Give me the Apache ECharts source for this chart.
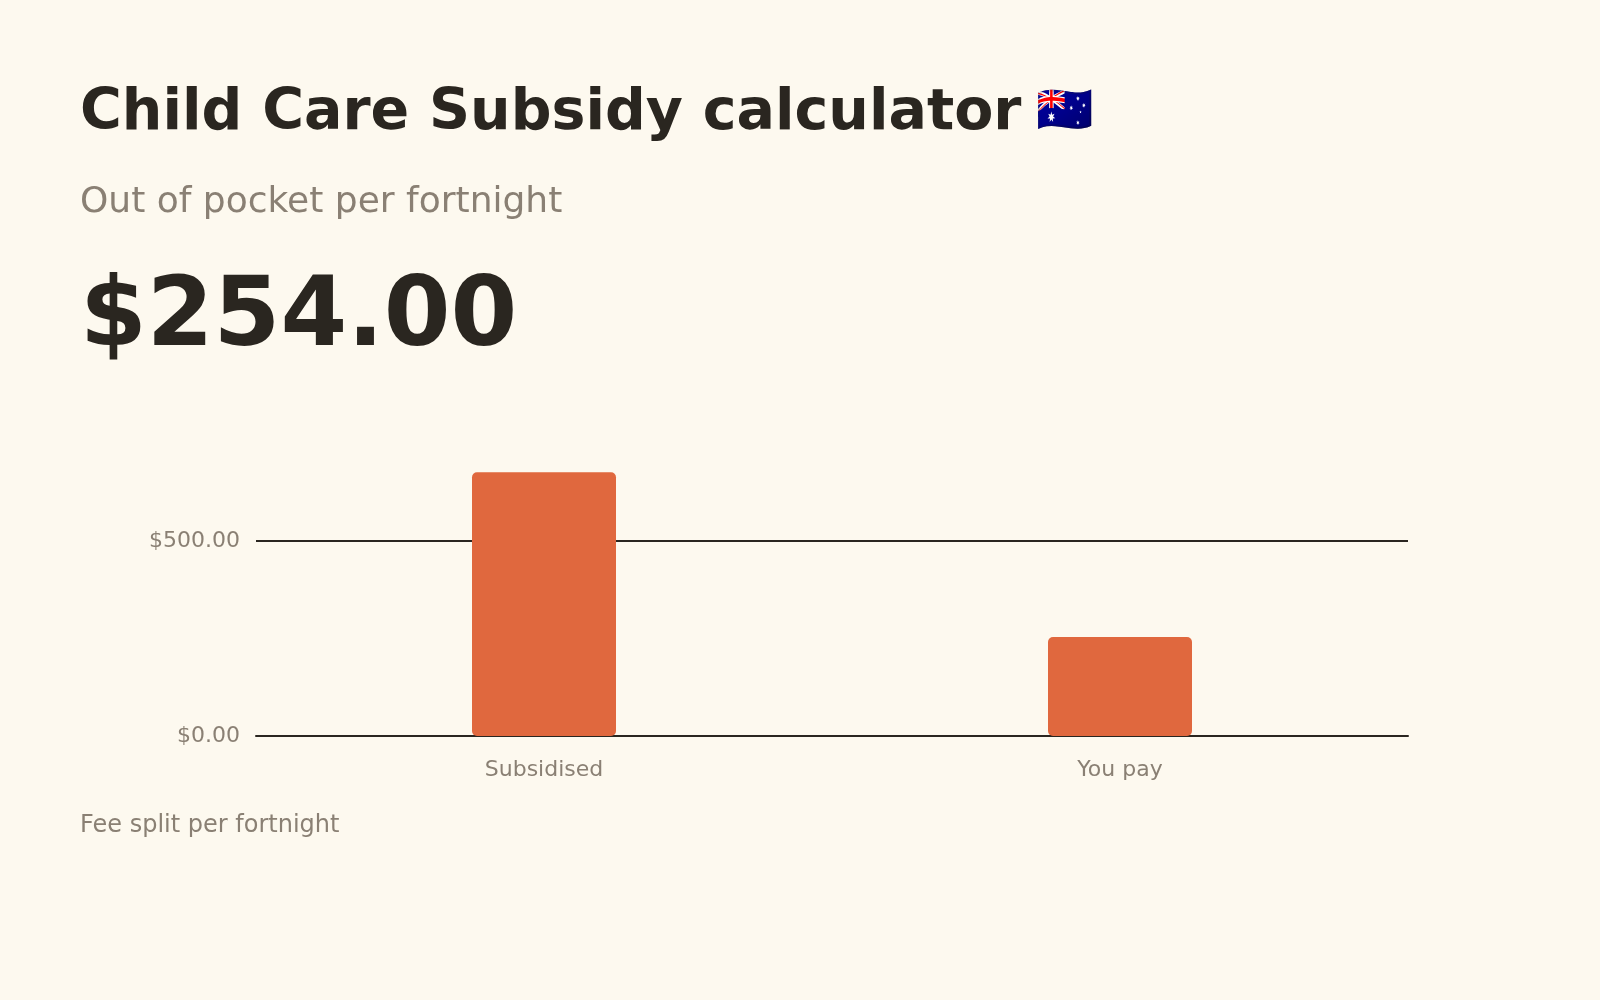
<!DOCTYPE html>
<html>
<head>
<meta charset="utf-8">
<title>Child Care Subsidy calculator</title>
<script src="https://cdn.jsdelivr.net/npm/echarts@6/dist/echarts.min.js"></script>
<style>
  html, body { margin: 0; padding: 0; background: #fdf9ef; }
  #my_echart { width: 1600px; height: 1000px; }
</style>
</head>
<body>
<div id="my_echart"></div>
<script>
// 数据
var categories = ['Subsidised', 'You pay'];
var feeValues = [676, 254];
var outOfPocket = '$254.00';
var yTicks = [0, 500];

var ink = '#2a2620';
var muted = '#8a8074';

function money(v) {
    return '$' + v.toFixed(2);
}

var mychart = echarts.init(document.getElementById('my_echart'));

mychart.setOption({
    backgroundColor: '#fdf9ef',
    textStyle: { fontFamily: 'DejaVu Sans' },
    graphic: [
        {
            type: 'text', left: 80, top: 86,
            style: { text: 'Child Care Subsidy calculator', fill: ink, font: 'bold 57px "DejaVu Sans"' }
        },
        {
            // 国旗
            type: 'text', left: 1036, top: 90,
            style: { text: '\uD83C\uDDE6\uD83C\uDDFA', fill: ink, font: '46px "DejaVu Sans"' }
        },
        {
            type: 'text', left: 80, top: 185,
            style: { text: 'Out of pocket per fortnight', fill: muted, font: '36px "DejaVu Sans"' }
        },
        {
            type: 'text', left: 80, top: 272,
            style: { text: outOfPocket, fill: ink, font: 'bold 96px "DejaVu Sans"' }
        },
        {
            type: 'text', left: 80, top: 814,
            style: { text: 'Fee split per fortnight', fill: muted, font: '24px "DejaVu Sans"' }
        }
    ],
    grid: {
        left: 256,
        right: 192,
        top: 463,
        bottom: 264
    },
    xAxis: {
        type: 'category',
        data: categories,
        axisLine: { show: true, lineStyle: { color: ink, width: 2 } },
        axisTick: { show: false },
        axisLabel: { color: muted, fontSize: 22, margin: 23 }
    },
    yAxis: {
        type: 'value',
        min: yTicks[0],
        max: 700,
        interval: yTicks[1] - yTicks[0],
        axisLine: { show: false },
        axisTick: { show: false },
        splitLine: { lineStyle: { color: [ink, ink, 'rgba(0,0,0,0)'], width: 2 } },
        axisLabel: {
            color: muted, fontSize: 22, margin: 16, showMaxLabel: false,
            formatter: function (v) { return money(v); }
        }
    },
    series: [
        {
            type: 'bar',
            data: feeValues,
            barWidth: '25%',
            itemStyle: { color: '#e0683e', borderRadius: 5 }
        }
    ]
});
</script>
</body>
</html>
